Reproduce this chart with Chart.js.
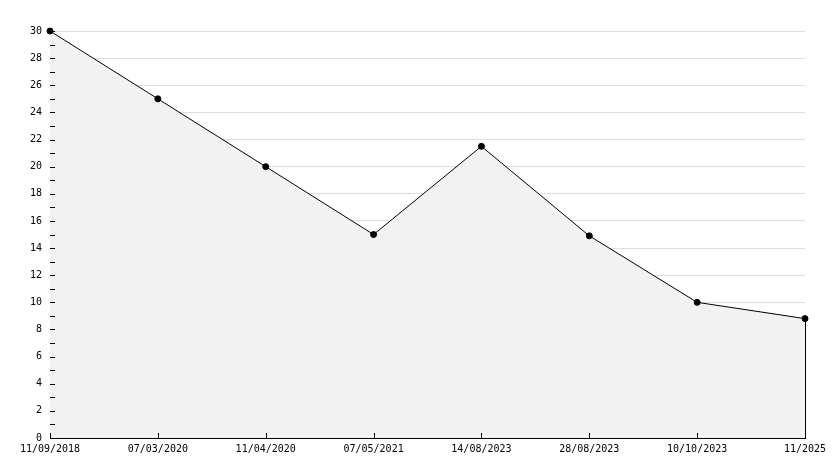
<!DOCTYPE html>
<html>
<head>
<meta charset="utf-8">
<script src="https://cdn.jsdelivr.net/npm/chart.js@4/dist/chart.umd.min.js"></script>
<style>
html,body{margin:0;padding:0;background:#fff;}
#wrap{width:834px;height:468px;}
</style>
</head>
<body>
<div id="wrap"><canvas id="c" width="834" height="468"></canvas></div>
<script>
const categories = ["11/09/2018","07/03/2020","11/04/2020","07/05/2021","14/08/2023","28/08/2023","10/10/2023","11/2025"];
const values = [30, 25, 20, 15, 21.5, 14.9, 10, 8.8];
const yTicks = [0,2,4,6,8,10,12,14,16,18,20,22,24,26,28,30];

const FONT = {family: "'DejaVu Sans Mono', monospace", size: 10};

const inwardTicks = {
  id: 'inwardTicks',
  afterDatasetsDraw(chart) {
    const ctx = chart.ctx;
    const x = chart.scales.x, y = chart.scales.y;
    const a = chart.chartArea;
    ctx.save();
    ctx.strokeStyle = '#000';
    ctx.lineWidth = 1;
    ctx.beginPath();
    for (let v = y.min; v <= y.max; v += 1) {
      const py = Math.round(y.getPixelForValue(v)) + 0.5;
      ctx.moveTo(a.left, py);
      ctx.lineTo(a.left + 5, py);
    }
    for (let i = 0; i < categories.length; i++) {
      const px = Math.round(x.getPixelForValue(i)) + 0.5;
      ctx.moveTo(px, a.bottom);
      ctx.lineTo(px, a.bottom - 5);
    }
    const last = values.length - 1;
    const lx = Math.round(x.getPixelForValue(last)) + 0.5;
    ctx.moveTo(lx, y.getPixelForValue(values[last]));
    ctx.lineTo(lx, a.bottom);
    ctx.stroke();
    ctx.restore();
  }
};

new Chart(document.getElementById('c'), {
  type: 'line',
  data: {
    labels: categories,
    datasets: [{
      data: values,
      borderColor: '#000',
      borderWidth: 1,
      backgroundColor: '#f2f2f2',
      fill: 'origin',
      tension: 0,
      pointRadius: 3,
      pointBackgroundColor: '#000',
      pointBorderColor: '#000',
      pointBorderWidth: 1,
      pointStyle: 'circle',
      clip: false
    }]
  },
  options: {
    responsive: false,
    animation: false,
    devicePixelRatio: 1,
    layout: {padding: {top: 31, right: 29, left: 0, bottom: 0}},
    plugins: {legend: {display: false}, tooltip: {enabled: false}},
    scales: {
      x: {
        offset: false,
        grid: {display: false, drawTicks: false},
        border: {display: true, color: '#000', width: 1},
        ticks: {color: '#000', font: FONT, padding: 5, maxRotation: 0, autoSkip: false},
        afterFit(s) { s.height = 30; }
      },
      y: {
        min: 0, max: 30,
        afterBuildTicks(s) { s.ticks = yTicks.map(v => ({value: v})); },
        grid: {color: '#dddddd', drawTicks: false, lineWidth: 1},
        border: {display: true, color: '#000', width: 1},
        ticks: {color: '#000', font: FONT, padding: 8},
        afterFit(s) { s.width = 50; }
      }
    }
  },
  plugins: [inwardTicks]
});
</script>
</body>
</html>
